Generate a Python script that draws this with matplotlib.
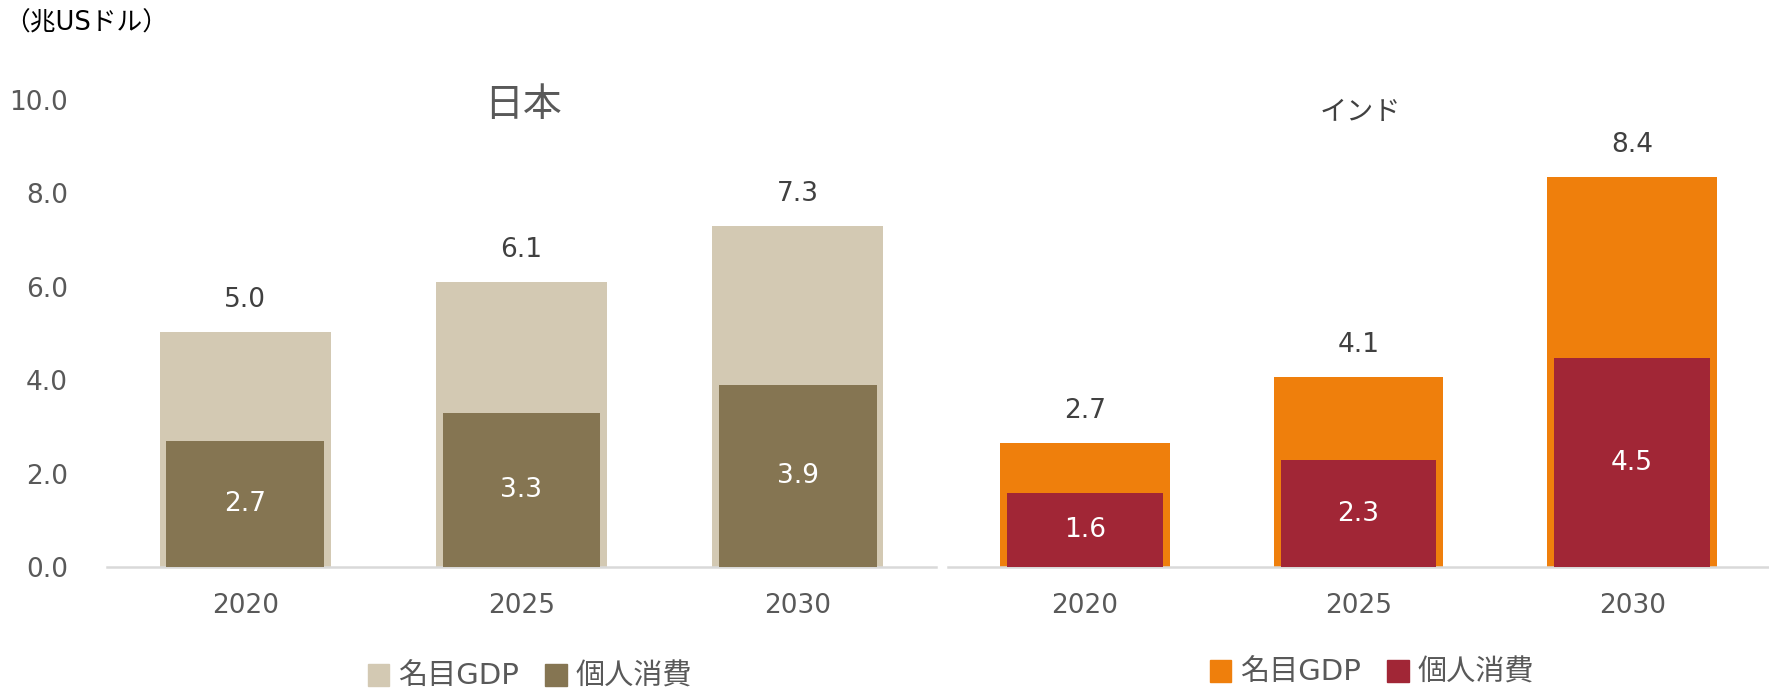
import matplotlib
matplotlib.use("Agg")
import matplotlib.pyplot as plt
from matplotlib.patches import Patch

plt.rcParams['font.family'] = ['DejaVu Sans', 'Noto Sans CJK JP']

# データ（兆USドル）
years = ["2020", "2025", "2030"]
japan_gdp = [5.04, 6.1, 7.3]
japan_cons = [2.7, 3.3, 3.9]
india_gdp = [2.66, 4.07, 8.36]
india_cons = [1.58, 2.29, 4.47]

col_jp_gdp = "#d3c9b3"
col_jp_cons = "#857552"
col_in_gdp = "#ef7f0c"
col_in_cons = "#a12636"
gray = "#595959"
dark = "#404040"

fig = plt.figure(figsize=(17.69, 6.9), dpi=100)
ax1 = fig.add_axes([107/1769, 123/690, 829/1769, 467/690])
ax2 = fig.add_axes([948/1769, 123/690, 821/1769, 467/690])

def draw(ax, gdp, cons, c_gdp, c_cons):
    x = range(len(years))
    ax.bar(x, gdp, width=0.62, color=c_gdp, zorder=2)
    ax.bar(x, cons, width=0.57, color=c_cons, zorder=3)
    for i in x:
        ax.annotate(f"{gdp[i]:.1f}", (i, gdp[i]), xytext=(0, 23), textcoords="offset points",
                    ha="center", va="center", fontsize=19, color=dark)
        ax.text(i, cons[i] / 2, f"{cons[i]:.1f}", ha="center", va="center",
                fontsize=19, color="white", zorder=4)
    ax.set_xlim(-0.5, 2.5)
    ax.set_ylim(0, 10)
    ax.set_xticks(list(x))
    ax.set_xticklabels(years)
    ax.tick_params(axis="x", length=0, pad=19, labelsize=19, labelcolor=gray)
    for s in ["top", "right", "left"]:
        ax.spines[s].set_visible(False)
    ax.spines["bottom"].set_color("#d9d9d9")
    ax.spines["bottom"].set_linewidth(1.8)

draw(ax1, japan_gdp, japan_cons, col_jp_gdp, col_jp_cons)
draw(ax2, india_gdp, india_cons, col_in_gdp, col_in_cons)

ax1.set_yticks([0, 2, 4, 6, 8, 10])
ax1.set_yticklabels([f"{v:.1f}" for v in [0, 2, 4, 6, 8, 10]])
ax1.tick_params(axis="y", length=0, pad=28, labelsize=19, labelcolor=gray)
ax2.set_yticks([])

fig.text(4/1769, 1 - 24/690, "（兆USドル）", fontsize=18.5, color="#000000", va="center", ha="left")
fig.text(523/1769, 1 - 105/690, "日本", fontsize=28, color=gray, ha="center", va="center")
fig.text(1360/1769, 1 - 113/690, "インド", fontsize=19.5, color=dark, ha="center", va="center")

leg_kw = dict(loc="center", ncol=2, frameon=False, fontsize=21, handlelength=0.75,
              handleheight=0.75, handletextpad=0.3, columnspacing=0.9, labelcolor=gray)
fig.legend(handles=[Patch(color=col_jp_gdp, label="名目GDP"), Patch(color=col_jp_cons, label="個人消費")],
           bbox_to_anchor=(530/1769, 1 - 677/690), **leg_kw)
fig.legend(handles=[Patch(color=col_in_gdp, label="名目GDP"), Patch(color=col_in_cons, label="個人消費")],
           bbox_to_anchor=(1372/1769, 1 - 673/690), **leg_kw)

fig.savefig("out.png", dpi=100)
